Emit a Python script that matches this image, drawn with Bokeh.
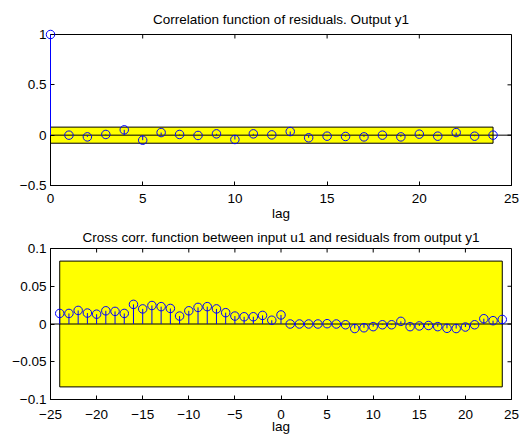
import math
from bokeh.plotting import figure
from bokeh.models import Range1d, FixedTicker, Span
from bokeh.layouts import column
from bokeh.embed import file_html
from bokeh.resources import INLINE

# ---- data ----
acf_lags = list(range(0, 25))
acf_vals = [1.0, 0.0, -0.017, 0.007, 0.053, -0.05, 0.026, 0.007, -0.003, 0.013,
            -0.043, 0.013, 0.003, 0.036, -0.026, -0.01, -0.013, -0.017, 0.0,
            -0.017, 0.01, -0.01, 0.026, -0.01, 0.0]
acf_conf = 0.08

xcf_lags = list(range(-24, 25))
xcf_vals = [0.014, 0.014, 0.018, 0.0145, 0.013, 0.0175, 0.0167, 0.014, 0.026,
            0.020, 0.0245, 0.023, 0.0206, 0.0105, 0.0175, 0.022, 0.023, 0.020,
            0.015, 0.0105, 0.0096, 0.0096, 0.0114, 0.005, 0.012,
            0.0, 0.0, 0.0, 0.0, 0.0004, 0.0, -0.001, -0.006, -0.005, -0.0035,
            -0.001, -0.001, 0.0035, -0.0035, -0.0026, -0.002, -0.0035, -0.0057,
            -0.006, -0.004, -0.001, 0.007, 0.0044, 0.006]
xcf_conf = 0.0833

top_title = "Correlation function of residuals. Output y1"
bot_title = "Cross corr. function between input u1 and residuals from output y1"
x_label = "lag"

top_xticks = [0, 5, 10, 15, 20, 25]
top_xlabels = ["0", "5", "10", "15", "20", "25"]
top_yticks = [-0.5, 0, 0.5, 1]
top_ylabels = ["\u22120.5", "0", "0.5", "1"]

bot_xticks = [-25, -20, -15, -10, -5, 0, 5, 10, 15, 20, 25]
bot_xlabels = ["\u221225", "\u221220", "\u221215", "\u221210", "\u22125", "0",
               "5", "10", "15", "20", "25"]
bot_yticks = [-0.1, -0.05, 0, 0.05, 0.1]
bot_ylabels = ["\u22120.1", "\u22120.05", "0", "0.05", "0.1"]

FONT = "Liberation Sans"
FS = "13.5px"
TICK = 4


def panel(title, lags, vals, conf, xr, yr, xt, xl, yt, yl, top, bottom,
          title_standoff, tick_standoff, label_standoff):
    p = figure(frame_width=461, frame_height=151, output_backend="svg",
               toolbar_location=None, x_range=Range1d(*xr), y_range=Range1d(*yr),
               min_border_left=50, min_border_right=19, min_border_top=top,
               min_border_bottom=bottom, title=title)
    p.title.align = "center"
    p.title.text_font = FONT
    p.title.text_font_size = FS
    p.title.text_font_style = "normal"
    p.title.text_color = "black"
    p.title.offset = 0
    p.title.standoff = title_standoff
    p.grid.visible = False
    p.outline_line_color = "black"
    p.outline_line_width = 1
    p.background_fill_color = "white"
    p.border_fill_color = "white"
    for ax, ticks, labels in ((p.xaxis[0], xt, xl), (p.yaxis[0], yt, yl)):
        ax.ticker = FixedTicker(ticks=ticks)
        ax.major_label_overrides = {t: s for t, s in zip(ticks, labels)}
        ax.major_tick_in = TICK
        ax.major_tick_out = 0
        ax.minor_tick_line_color = None
        ax.axis_line_color = "black"
        ax.major_tick_line_color = "black"
        ax.major_label_text_font = FONT
        ax.major_label_text_font_size = FS
        ax.major_label_text_color = "black"
    p.xaxis[0].major_label_standoff = tick_standoff
    p.yaxis[0].major_label_standoff = 4
    p.xaxis[0].axis_label = x_label
    p.xaxis[0].axis_label_text_font = FONT
    p.xaxis[0].axis_label_text_font_size = FS
    p.xaxis[0].axis_label_text_font_style = "normal"
    p.xaxis[0].axis_label_text_color = "black"
    p.xaxis[0].axis_label_standoff = label_standoff

    # mirrored inward ticks on top and right edges
    p.ray(x=xt, y=[yr[1]] * len(xt), length=TICK, length_units="screen",
          angle=-math.pi / 2, line_color="black", line_width=1)
    p.ray(x=[xr[1]] * len(yt), y=yt, length=TICK, length_units="screen",
          angle=math.pi, line_color="black", line_width=1)

    p.quad(left=min(lags), right=max(lags), bottom=-conf, top=conf,
           fill_color="#ffff00", line_color="black", line_width=1)
    p.add_layout(Span(location=0, dimension="width", line_color="black", line_width=1))
    p.segment(x0=lags, y0=[0] * len(lags), x1=lags, y1=vals, line_color="blue",
              line_width=1, level="overlay")
    p.scatter(lags, vals, marker="circle", size=8.5, fill_color=None,
              line_color="blue", line_width=1, level="overlay")
    return p


p1 = panel(top_title, acf_lags, acf_vals, acf_conf, (0, 25), (-0.5, 1),
           top_xticks, top_xlabels, top_yticks, top_ylabels, 34, 0, 16, 8, 0)
p2 = panel(bot_title, xcf_lags, xcf_vals, xcf_conf, (-25, 25), (-0.1, 0.1),
           bot_xticks, bot_xlabels, bot_yticks, bot_ylabels, 0, 0, 8, 10, -3)

layout = column(p1, p2, spacing=0)
open("out.html", "w").write(file_html(layout, INLINE))
